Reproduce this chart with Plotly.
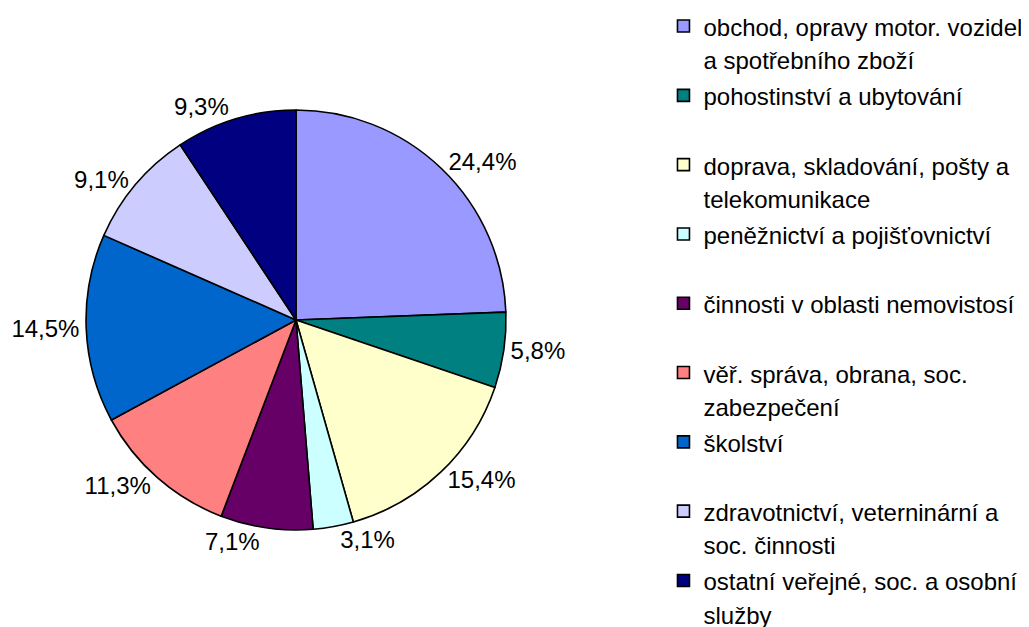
import plotly.graph_objects as go

categories = [
    "obchod, opravy motor. vozidel a spotřebního zboží",
    "pohostinství a ubytování",
    "doprava, skladování, pošty a telekomunikace",
    "peněžnictví a pojišťovnictví",
    "činnosti v oblasti nemovistosí",
    "věř. správa, obrana, soc. zabezpečení",
    "školství",
    "zdravotnictví, veterninární a soc. činnosti",
    "ostatní veřejné, soc. a osobní služby",
]
legend_text = [
    "obchod, opravy motor. vozidel<br>a spotřebního zboží",
    "pohostinství a ubytování<br> ",
    "doprava, skladování, pošty a<br>telekomunikace",
    "peněžnictví a pojišťovnictví<br> ",
    "činnosti v oblasti nemovistosí<br> ",
    "věř. správa, obrana, soc.<br>zabezpečení",
    "školství<br> ",
    "zdravotnictví, veterninární a<br>soc. činnosti",
    "ostatní veřejné, soc. a osobní<br>služby",
]
values = [24.4, 5.8, 15.4, 3.1, 7.1, 11.3, 14.5, 9.1, 9.3]
colors = ["#9999FF", "#008080", "#FFFFCC", "#CCFFFF", "#660066",
          "#FF8080", "#0066CC", "#CCCCFF", "#000080"]

pct_text = [f"{v:.1f}".replace(".", ",") + "%" for v in values]
legend_labels = [f'<span style="font-size:24px">{t}</span>' for t in legend_text]

FONT = "Liberation Sans, Arial, sans-serif"

fig = go.Figure(go.Pie(
    labels=legend_labels,
    values=values,
    text=pct_text,
    textinfo="text",
    textposition="outside",
    hoverinfo="label+percent",
    sort=False,
    direction="clockwise",
    rotation=0,
    marker=dict(colors=colors, line=dict(color="black", width=1.6)),
    outsidetextfont=dict(family=FONT, size=24, color="black"),
    domain=dict(x=[0.0758, 0.4840], y=[0.1675, 0.8373]),
))

fig.update_layout(
    width=1029, height=627,
    margin=dict(l=0, r=0, t=0, b=0, autoexpand=False),
    paper_bgcolor="white",
    plot_bgcolor="white",
    font=dict(family=FONT, color="black"),
    showlegend=True,
    legend=dict(
        x=0.637, y=1.008, xanchor="left", yanchor="top",
        valign="top",
        maxheight=700,
        font=dict(family=FONT, size=25.5, color="black"),
        bgcolor="rgba(0,0,0,0)",
    ),
)

fig.write_html("out.html")
